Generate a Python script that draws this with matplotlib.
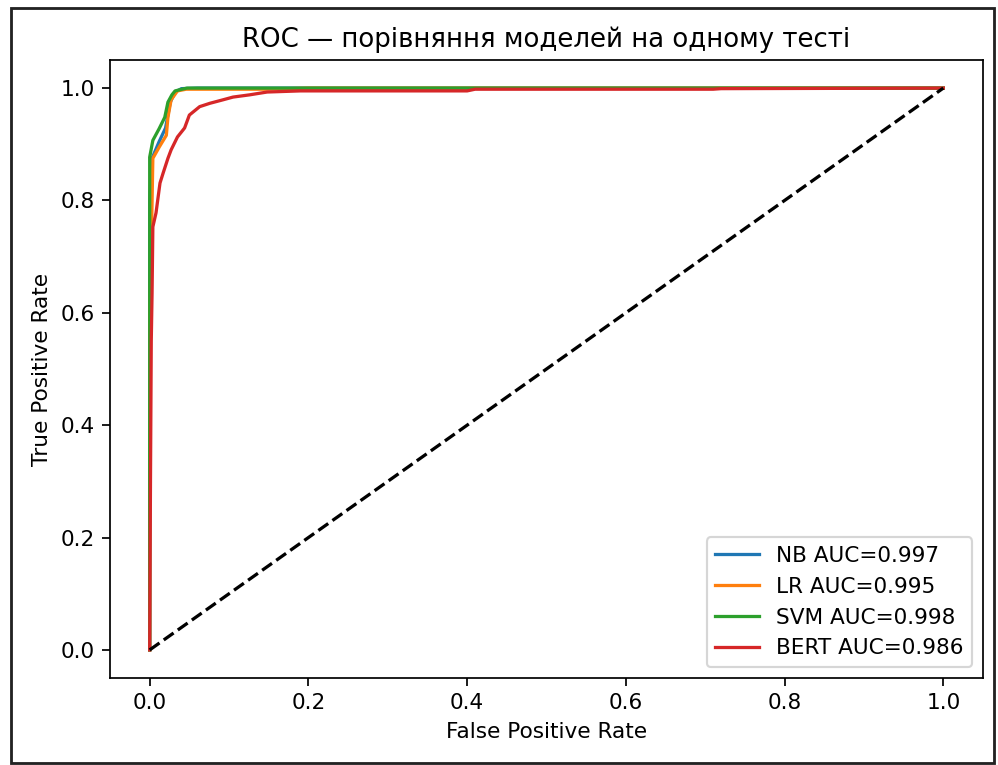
import matplotlib
matplotlib.use("Agg")
import matplotlib.pyplot as plt
from matplotlib.patches import Rectangle

# ROC points per model (fpr, tpr)
nb_fpr = [0.0, 0.0, 0.0, 0.003, 0.012, 0.020, 0.023, 0.026, 0.032, 0.040, 0.06, 1.0]
nb_tpr = [0.0, 0.60, 0.80, 0.875, 0.905, 0.929, 0.952, 0.975, 0.993, 0.999, 1.0, 1.0]

lr_fpr = [0.0, 0.0, 0.002, 0.004, 0.012, 0.021, 0.023, 0.027, 0.035, 0.046, 0.15, 0.2, 1.0]
lr_tpr = [0.0, 0.60, 0.72, 0.875, 0.895, 0.916, 0.948, 0.979, 0.995, 0.998, 0.998, 1.0, 1.0]

svm_fpr = [0.0, 0.0, 0.0, 0.004, 0.012, 0.019, 0.023, 0.028, 0.032, 0.047, 1.0]
svm_tpr = [0.0, 0.60, 0.877, 0.907, 0.928, 0.948, 0.975, 0.988, 0.995, 1.0, 1.0]

bert_fpr = [0.0, 0.001, 0.002, 0.003, 0.004, 0.008, 0.013, 0.017, 0.023, 0.027, 0.035,
            0.044, 0.050, 0.063, 0.076, 0.092, 0.105, 0.126, 0.148, 0.19, 0.40, 0.41,
            0.71, 0.72, 1.0]
bert_tpr = [0.0, 0.30, 0.55, 0.635, 0.753, 0.778, 0.831, 0.849, 0.875, 0.890, 0.913,
            0.929, 0.952, 0.967, 0.973, 0.979, 0.984, 0.988, 0.993, 0.995, 0.995, 0.998,
            0.998, 0.999, 1.0]

models = ["NB", "LR", "SVM", "BERT"]
aucs = [0.997, 0.995, 0.998, 0.986]

dpi = 156
fig = plt.figure(figsize=(998 / dpi, 765 / dpi), dpi=dpi)
ax = fig.add_axes([110 / 998, 87 / 765, 873 / 998, 618 / 765])

curves = [(nb_fpr, nb_tpr), (lr_fpr, lr_tpr), (svm_fpr, svm_tpr), (bert_fpr, bert_tpr)]
for name, auc, (fpr, tpr) in zip(models, aucs, curves):
    ax.plot(fpr, tpr, label=f"{name} AUC={auc:.3f}")
ax.plot([0, 1], [0, 1], "k--")

ax.set_xlabel("False Positive Rate")
ax.set_ylabel("True Positive Rate")
ax.set_title("ROC — порівняння моделей на одному тесті")
ax.legend(loc="lower right")

# frame around the whole figure
fig.patches.append(Rectangle((11 / 998, 2 / 765), 983 / 998, 755 / 765,
                             transform=fig.transFigure, fill=False,
                             edgecolor="#222222", linewidth=1.3))

fig.savefig("out.png", dpi=dpi)
